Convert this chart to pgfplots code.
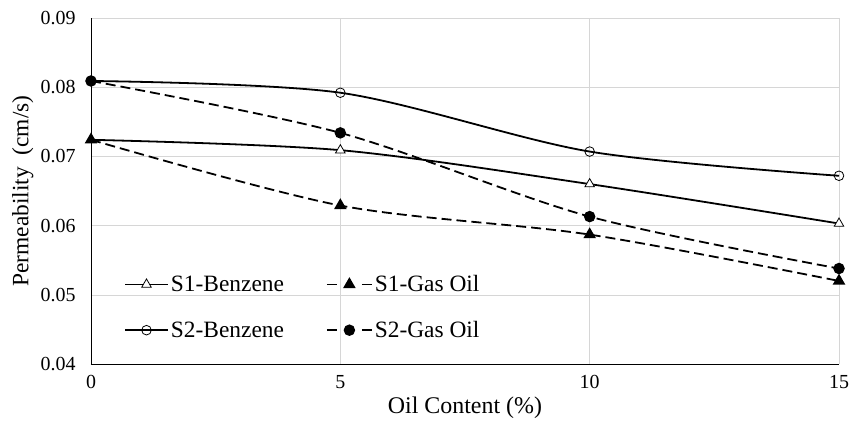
\documentclass[border=0pt]{standalone}
\usepackage{pgfplots}
\pgfplotsset{compat=1.18}
\usepackage{fontspec}
\setmainfont{Liberation Serif}
\pgfplotsset{
  mylegend/.style={legend image code/.code={\draw[mark repeat=2,mark phase=2,##1] plot coordinates {(0bp,0bp) (21.5bp,0bp) (43bp,0bp)};}},
  mydashlegend/.style={legend image code/.code={\draw[mark repeat=2,mark phase=2,##1,dash pattern=on 10bp off 25bp] plot coordinates {(0bp,0bp) (22.5bp,0bp) (45bp,0bp)};}},
}
\begin{document}
\begin{tikzpicture}
\path[use as bounding box] (-91bp,-57bp) rectangle (760bp,364bp);
\begin{axis}[
  scale only axis, width=748bp, height=346bp,
  at={(0,0)}, anchor=south west,
  xmin=0, xmax=15, ymin=0.04, ymax=0.09,
  xtick={0,5,10,15}, ytick={0.04,0.05,0.06,0.07,0.08,0.09},
  axis x line*=bottom, axis y line*=left,
  axis line style={black, line width=0.9bp, -},
  major tick length=0pt,
  grid=major,
  major grid style={color=black!16, line width=0.6bp},
  /pgf/number format/assume math mode=true,
  yticklabel style={/pgf/number format/fixed, /pgf/number format/precision=2, /pgf/number format/fixed zerofill, font=\fontsize{20}{22}\selectfont, xshift=-12bp},
  xticklabel style={font=\fontsize{20}{22}\selectfont, yshift=-8bp},
  scaled y ticks=false,
  xlabel={Oil Content (\%)},
  ylabel={Permeability \ (cm/s)},
  xlabel style={font=\fontsize{24}{28}\selectfont, at={(axis description cs:0.5,-0.0954)}, anchor=north, inner sep=0pt},
  ylabel style={font=\fontsize{23.5}{28}\selectfont, at={(axis description cs:-0.1056,0.5)}, anchor=north, inner sep=0pt},
  legend columns=2,
  legend style={draw=none, fill=none, at={(axis description cs:0.04,0.06)}, anchor=south west,
    font=\fontsize{23.5}{27}\selectfont, row sep=24bp,
    /tikz/every even column/.append style={column sep=40bp}},
  legend cell align=left,
]
\addplot[mylegend, black, line width=1.8bp, smooth, tension=0.5, mark=triangle*, mark size=5.5bp, mark options={fill=white, solid, line width=0.8bp}]
  coordinates {(0,0.0724) (5,0.0709) (10,0.0660) (15,0.0603)};
\addlegendentry{S1-Benzene}
\addplot[mydashlegend, black, line width=1.8bp, dash pattern=on 10bp off 5bp, smooth, tension=0.5, mark=triangle*, mark size=5.5bp, mark options={fill=black, solid}]
  coordinates {(0,0.0724) (5,0.0629) (10,0.0587) (15,0.0520)};
\addlegendentry{S1-Gas Oil}
\addplot[mylegend, black, line width=1.8bp, smooth, tension=0.5, mark=o, mark size=4.8bp, mark options={fill=white, solid, line width=0.8bp}]
  coordinates {(0,0.0809) (5,0.0792) (10,0.0707) (15,0.0672)};
\addlegendentry{S2-Benzene}
\addplot[mydashlegend, black, line width=1.8bp, dash pattern=on 10bp off 5bp, smooth, tension=0.5, mark=*, mark size=4.8bp, mark options={fill=black, solid}]
  coordinates {(0,0.0809) (5,0.0734) (10,0.0613) (15,0.0538)};
\addlegendentry{S2-Gas Oil}
\end{axis}
\end{tikzpicture}
\end{document}
